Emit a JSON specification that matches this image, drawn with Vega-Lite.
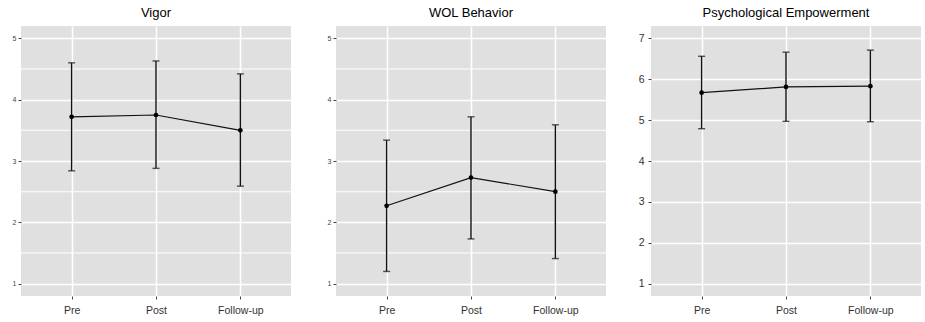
{
  "$schema": "https://vega.github.io/schema/vega-lite/v6.json",
  "padding": {"left": 12, "top": 7, "right": 0, "bottom": 0},
  "background": "white",
  "bounds": "flush",
  "spacing": 45,
  "datasets": {
    "stats": [
      {"measure": "Vigor", "time": "Pre", "mean": 3.72, "lo": 2.84, "hi": 4.60},
      {"measure": "Vigor", "time": "Post", "mean": 3.75, "lo": 2.88, "hi": 4.63},
      {"measure": "Vigor", "time": "Follow-up", "mean": 3.50, "lo": 2.59, "hi": 4.42},
      {"measure": "WOL Behavior", "time": "Pre", "mean": 2.27, "lo": 1.20, "hi": 3.34},
      {"measure": "WOL Behavior", "time": "Post", "mean": 2.73, "lo": 1.73, "hi": 3.72},
      {"measure": "WOL Behavior", "time": "Follow-up", "mean": 2.50, "lo": 1.41, "hi": 3.59},
      {"measure": "Psychological Empowerment", "time": "Pre", "mean": 5.67, "lo": 4.79, "hi": 6.56},
      {"measure": "Psychological Empowerment", "time": "Post", "mean": 5.81, "lo": 4.97, "hi": 6.66},
      {"measure": "Psychological Empowerment", "time": "Follow-up", "mean": 5.83, "lo": 4.96, "hi": 6.71}
    ],
    "minor": [
      {"g": 1.5}, {"g": 2.5}, {"g": 3.5}, {"g": 4.5}
    ]
  },
  "config": {
    "font": "Liberation Sans",
    "view": {"fill": "#E0E0E0", "stroke": null},
    "title": {"fontSize": 13, "fontWeight": "normal", "color": "#000000", "offset": 6, "font": "Liberation Sans"},
    "axis": {"domain": false, "titleFontSize": 0, "tickColor": "#444444", "tickSize": 3, "tickWidth": 1, "gridColor": "#FFFFFF", "gridWidth": 1.6, "labelColor": "#444444", "labelFont": "Liberation Sans"},
    "axisX": {"labelFontSize": 10.5, "labelPadding": 6, "labelAngle": 0, "grid": true, "gridWidth": 1.5, "labelColor": "#333333"},
    "axisY": {"labelFontSize": 7, "labelPadding": 2}
  },
  "hconcat": [
    {
      "title": "Vigor",
      "width": 270, "height": 270,
      "layer": [
        {"data": {"name": "minor"},
         "mark": {"type": "rule", "color": "#FFFFFF", "strokeWidth": 1.1},
         "encoding": {"y": {"field": "g", "type": "quantitative", "title": null,
            "scale": {"domain": [0.8, 5.2], "nice": false, "zero": false},
            "axis": {"values": [1, 2, 3, 4, 5], "format": "d"}}}},
        {"data": {"name": "stats"},
         "transform": [{"filter": "datum.measure === 'Vigor'"}],
         "encoding": {
           "x": {"field": "time", "type": "nominal", "sort": ["Pre", "Post", "Follow-up"], "title": null,
                 "scale": {"type": "point", "padding": 0.6}, "axis": {"grid": true}}
         },
         "layer": [
           {"mark": {"type": "rule", "color": "#111111", "strokeWidth": 1.4},
            "encoding": {"y": {"field": "lo", "type": "quantitative"}, "y2": {"field": "hi"}}},
           {"mark": {"type": "tick", "color": "#111111", "size": 7, "thickness": 1.4},
            "encoding": {"y": {"field": "lo", "type": "quantitative"}}},
           {"mark": {"type": "tick", "color": "#111111", "size": 7, "thickness": 1.4},
            "encoding": {"y": {"field": "hi", "type": "quantitative"}}},
           {"mark": {"type": "line", "color": "#111111", "strokeWidth": 1.2},
            "encoding": {"y": {"field": "mean", "type": "quantitative"}}},
           {"mark": {"type": "point", "filled": true, "color": "#000000", "size": 22, "opacity": 1},
            "encoding": {"y": {"field": "mean", "type": "quantitative"}}}
         ]}
      ]
    },
    {
      "title": "WOL Behavior",
      "width": 270, "height": 270,
      "layer": [
        {"data": {"name": "minor"},
         "mark": {"type": "rule", "color": "#FFFFFF", "strokeWidth": 1.1},
         "encoding": {"y": {"field": "g", "type": "quantitative", "title": null,
            "scale": {"domain": [0.8, 5.2], "nice": false, "zero": false},
            "axis": {"values": [1, 2, 3, 4, 5], "format": "d"}}}},
        {"data": {"name": "stats"},
         "transform": [{"filter": "datum.measure === 'WOL Behavior'"}],
         "encoding": {
           "x": {"field": "time", "type": "nominal", "sort": ["Pre", "Post", "Follow-up"], "title": null,
                 "scale": {"type": "point", "padding": 0.6}, "axis": {"grid": true}}
         },
         "layer": [
           {"mark": {"type": "rule", "color": "#111111", "strokeWidth": 1.4},
            "encoding": {"y": {"field": "lo", "type": "quantitative"}, "y2": {"field": "hi"}}},
           {"mark": {"type": "tick", "color": "#111111", "size": 7, "thickness": 1.4},
            "encoding": {"y": {"field": "lo", "type": "quantitative"}}},
           {"mark": {"type": "tick", "color": "#111111", "size": 7, "thickness": 1.4},
            "encoding": {"y": {"field": "hi", "type": "quantitative"}}},
           {"mark": {"type": "line", "color": "#111111", "strokeWidth": 1.2},
            "encoding": {"y": {"field": "mean", "type": "quantitative"}}},
           {"mark": {"type": "point", "filled": true, "color": "#000000", "size": 22, "opacity": 1},
            "encoding": {"y": {"field": "mean", "type": "quantitative"}}}
         ]}
      ]
    },
    {
      "title": "Psychological Empowerment",
      "width": 270, "height": 270,
      "data": {"name": "stats"},
      "transform": [{"filter": "datum.measure === 'Psychological Empowerment'"}],
      "encoding": {
        "x": {"field": "time", "type": "nominal", "sort": ["Pre", "Post", "Follow-up"], "title": null,
              "scale": {"type": "point", "padding": 0.6}, "axis": {"grid": true}}
      },
      "layer": [
        {"mark": {"type": "rule", "color": "#111111", "strokeWidth": 1.4},
         "encoding": {"y": {"field": "lo", "type": "quantitative", "title": null,
            "scale": {"domain": [0.7, 7.3], "nice": false, "zero": false},
            "axis": {"values": [1, 2, 3, 4, 5, 6, 7], "labelFontSize": 10.5, "labelPadding": 4, "labelColor": "#333333"}},
            "y2": {"field": "hi"}}},
        {"mark": {"type": "tick", "color": "#111111", "size": 7, "thickness": 1.4},
         "encoding": {"y": {"field": "lo", "type": "quantitative"}}},
        {"mark": {"type": "tick", "color": "#111111", "size": 7, "thickness": 1.4},
         "encoding": {"y": {"field": "hi", "type": "quantitative"}}},
        {"mark": {"type": "line", "color": "#111111", "strokeWidth": 1.2},
         "encoding": {"y": {"field": "mean", "type": "quantitative"}}},
        {"mark": {"type": "point", "filled": true, "color": "#000000", "size": 22, "opacity": 1},
         "encoding": {"y": {"field": "mean", "type": "quantitative"}}}
      ]
    }
  ]
}
